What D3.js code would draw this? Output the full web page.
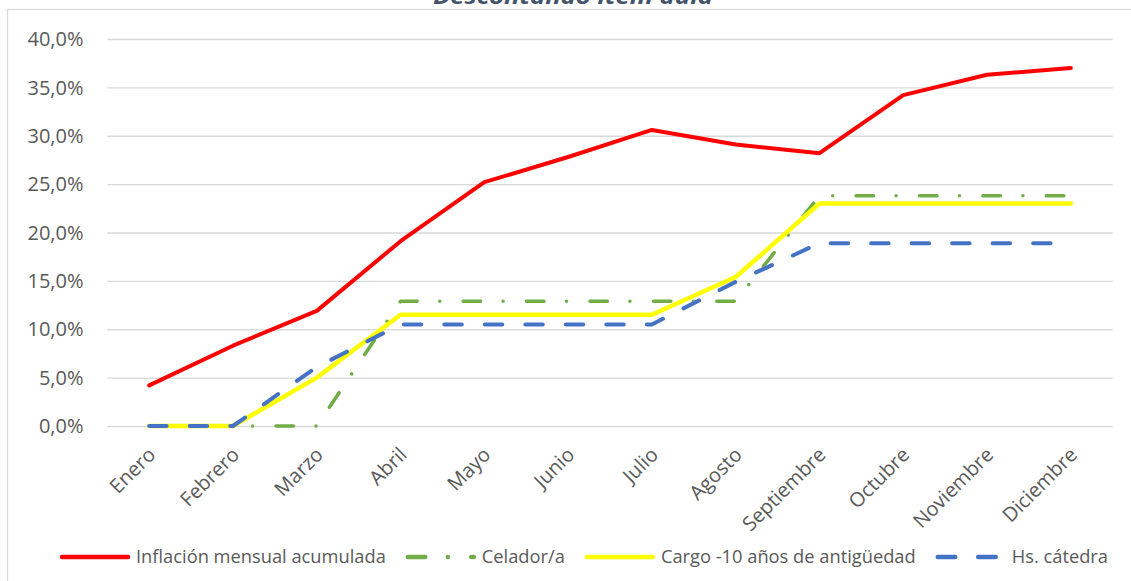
<!DOCTYPE html>
<html>
<head>
<meta charset="utf-8">
<script src="https://cdnjs.cloudflare.com/ajax/libs/d3/7.8.5/d3.min.js"></script>
<style>
    body { margin: 0; background: #ffffff; }
    #chart svg { display: block; }
    .grid line { stroke: #d9d9d9; stroke-width: 1.3; }
    .tickLabel { font-family: "Open Sans", sans-serif; fill: #595959; }
    .legendText { font-family: "Open Sans", sans-serif; fill: #595959; font-size: 18.3px; }
</style>
</head>
<body>
<div id="chart"></div>
<script>

// months on the x axis
var months = ["Enero", "Febrero", "Marzo", "Abril", "Mayo", "Junio", "Julio",
    "Agosto", "Septiembre", "Octubre", "Noviembre", "Diciembre"];

// accumulated values in percent
var inflacion = [4.2, 8.3, 11.9, 19.1, 25.2, 27.8, 30.6, 29.1, 28.2, 34.2, 36.3, 37.0];
var celador   = [0, 0, 0, 12.9, 12.9, 12.9, 12.9, 12.9, 23.8, 23.8, 23.8, 23.8];
var cargo     = [0, 0, 5.0, 11.5, 11.5, 11.5, 11.5, 15.4, 23.0, 23.0, 23.0, 23.0];
var catedra   = [0, 0, 6.1, 10.5, 10.5, 10.5, 10.5, 14.9, 18.9, 18.9, 18.9, 18.9];

var seriesNames = ["Inflación mensual acumulada", "Celador/a", "Cargo -10 años de antigüedad", "Hs. cátedra"];
var yTicks = [0, 5, 10, 15, 20, 25, 30, 35, 40];
var chartTitle = "Descontando ítem aula";

/**
 * Constructor for the salary vs inflation line chart
 */
function SalaryChart(){
    var self = this;
    self.init();
};

/**
 * Creates the svg and the scales
 */
SalaryChart.prototype.init = function(){
    var self = this;
    self.width = 1131;
    self.height = 581;
    self.plot = {left: 107.3, right: 1112.7, top: 39, bottom: 426};

    self.svg = d3.select("#chart").append("svg")
        .attr("width", self.width)
        .attr("height", self.height);

    self.xScale = d3.scaleBand()
        .domain(months)
        .range([self.plot.left, self.plot.right]);

    self.yScale = d3.scaleLinear()
        .domain([0, 40])
        .range([self.plot.bottom, self.plot.top]);

    //styles for every series, same order as seriesNames
    self.styles = [
        {color: "#ff0000", width: 4, dash: null},
        {color: "#70ad47", width: 3.5, dash: "17.5,22.5,0.01,23.4"},
        {color: "#ffff00", width: 4.5, dash: null},
        {color: "#4472c4", width: 4, dash: "17.5,23"}
    ];
};

/**
 * Draws frame, grid, axes, lines and legend
 */
SalaryChart.prototype.update = function(series){
    var self = this;

    //outer frame of the chart (only top and left edge fall inside the picture)
    self.svg.append("rect")
        .attr("x", 7.5)
        .attr("y", 9.5)
        .attr("width", 1300)
        .attr("height", 700)
        .attr("fill", "none")
        .attr("stroke", "#d9d9d9")
        .attr("stroke-width", 1.3);

    //title, mostly cut off at the top
    self.svg.append("text")
        .attr("x", 573)
        .attr("y", 4)
        .attr("text-anchor", "middle")
        .attr("textLength", 280)
        .attr("lengthAdjust", "spacingAndGlyphs")
        .style("font-family", "'Open Sans', sans-serif")
        .style("font-weight", "bold")
        .style("font-style", "italic")
        .style("font-size", "22px")
        .style("fill", "#44546a")
        .text(chartTitle);

    //horizontal grid
    var yAxis = d3.axisLeft(self.yScale)
        .tickValues(yTicks)
        .tickSize(-(self.plot.right - self.plot.left))
        .tickFormat("");

    self.svg.append("g")
        .attr("class", "grid")
        .attr("transform", "translate(" + self.plot.left + ",0)")
        .call(yAxis)
        .call(function(g){ g.select(".domain").remove(); });

    self.svg.selectAll(".yLabel")
        .data(yTicks)
        .enter().append("text")
        .attr("class", "tickLabel yLabel")
        .attr("x", 83.5)
        .attr("y", function(d){ return self.yScale(d); })
        .attr("dy", "0.36em")
        .attr("text-anchor", "end")
        .style("font-size", "20px")
        .text(function(d){ return d.toFixed(1).replace(".", ",") + "%"; });

    //rotated month labels
    self.svg.selectAll(".xLabel")
        .data(months)
        .enter().append("text")
        .attr("class", "tickLabel xLabel")
        .attr("transform", function(d){
            var x = self.xScale(d) + self.xScale.bandwidth() / 2 + 2.6;
            return "translate(" + x + ",451) rotate(-45)";
        })
        .attr("dy", "0.35em")
        .attr("text-anchor", "end")
        .style("font-size", "20px")
        .text(function(d){ return d; });

    //lines
    var line = d3.line()
        .x(function(d, i){ return self.xScale(months[i]) + self.xScale.bandwidth() / 2; })
        .y(function(d){ return self.yScale(d); });

    series.forEach(function(values, k){
        var st = self.styles[k];
        self.svg.append("path")
            .datum(values)
            .attr("d", line)
            .attr("fill", "none")
            .attr("stroke", st.color)
            .attr("stroke-width", st.width)
            .attr("stroke-linecap", "round")
            .attr("stroke-linejoin", "round")
            .attr("stroke-dasharray", st.dash);
    });

    //legend, laid out from the text widths and centred
    var legend = self.svg.append("g");
    var xPos = 0;
    seriesNames.forEach(function(name, k){
        var st = self.styles[k];
        var item = legend.append("g").attr("transform", "translate(" + xPos + ",0)");
        item.append("line")
            .attr("x1", 2).attr("x2", 68)
            .attr("y1", 0).attr("y2", 0)
            .attr("stroke", st.color)
            .attr("stroke-width", 4.5)
            .attr("stroke-linecap", "round")
            .attr("stroke-dasharray", st.dash);
        var t = item.append("text")
            .attr("class", "legendText")
            .attr("x", 76)
            .attr("dy", "0.35em")
            .text(name);
        xPos += 76 + t.node().getComputedTextLength() + 20;
    });
    var total = xPos - 20;
    legend.attr("transform", "translate(" + (584 - total / 2) + ",557)");
};

var chart = new SalaryChart();
chart.update([inflacion, celador, cargo, catedra]);

</script>
</body>
</html>
